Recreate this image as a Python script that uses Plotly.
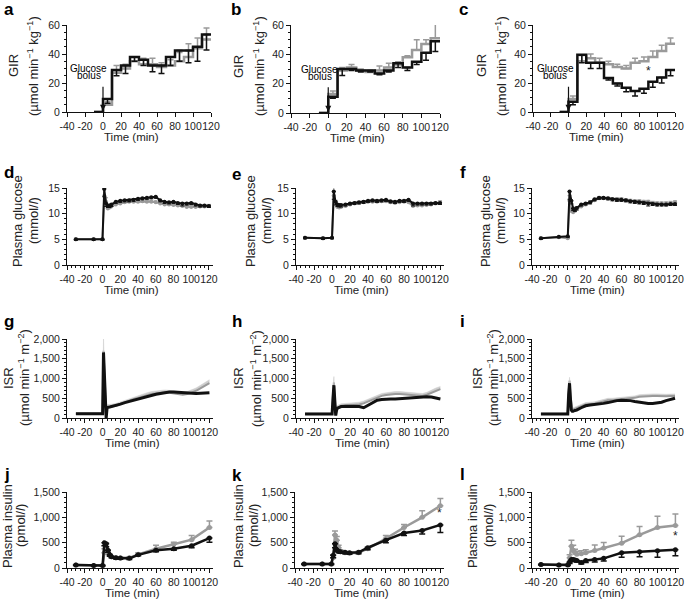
import plotly.graph_objects as go

# ---------------- data ----------------
gir_edges = [-10, 0, 10, 20, 30, 40, 50, 60, 70, 80, 90, 100, 110, 120]
gir_mid = [5, 15, 25, 35, 45, 55, 65, 75, 85, 95, 105, 115]

gir_a_gray = [0, 5, 27, 30, 35, 33, 33, 31, 32, 35, 38, 44, 50]
gir_a_gray_hi = [7, 32, 33, 38, 37, 37, 34, 36, 41, 47, 51, 58]
gir_a_black = [0, 9, 29, 32, 38, 36, 32, 32, 38, 42.5, 42.5, 45, 53.5]
gir_a_black_lo = [6, 25, 26.5, 35, 32, 27.7, 26.5, 32, 35, 34, 35, 42.7]

gir_b_gray = [0, 13, 29, 31, 29, 28, 29, 31, 33, 38, 43, 47, 51]
gir_b_gray_hi = [15, 31, 33, 30, 29, 32, 34, 35, 39, 50, 50, 62]
gir_b_black = [0, 11, 30, 30, 29, 29, 27, 29, 34, 31, 35, 41, 49]
gir_b_black_lo = [10, 25.5, 29, 28, 28, 26, 28, 31, 29, 33, 36, 42]

gir_c_gray = [0, 9, 35, 37, 34, 33, 31, 30, 34, 35, 38, 42, 47]
gir_c_gray_hi = [11, 39, 40, 37, 35, 33, 32, 37, 38, 42, 46, 51]
gir_c_black = [0, 7, 39.5, 34, 34, 23.5, 19.6, 16.8, 14.5, 16, 20.8, 23.8, 29]
gir_c_black_lo = [5, 34, 30, 30, 22, 18, 14, 11, 13, 17, 20, 25]

glu_t = [-30, -10, 0, 2, 4, 6, 8, 10, 15, 20, 25, 30, 35, 40, 45, 50, 55, 60,
         65, 70, 75, 80, 85, 90, 95, 100, 105, 110, 115, 120]
glu_d_black = [5.0, 5.0, 5.0, 14.8, 12.0, 11.6, 11.6, 11.8, 12.3, 12.5, 12.6, 12.6, 12.7, 12.9, 13.0,
               13.1, 13.2, 13.3, 12.6, 12.3, 12.2, 12.3, 12.1, 12.0, 12.0, 12.1, 11.8, 11.6, 11.6, 11.5]
glu_d_gray = [5.0, 5.0, 5.0, 13.5, 12.3, 11.0, 11.2, 11.4, 11.8, 12.0, 12.2, 12.3, 12.3, 12.3, 12.4,
              12.3, 12.3, 12.2, 12.0, 11.8, 11.8, 11.7, 11.6, 11.5, 11.3, 11.3, 11.3, 11.4, 11.4, 11.5]
glu_e_black = [5.3, 5.2, 5.3, 14.3, 12.3, 11.8, 11.7, 11.7, 11.8, 12.0, 12.1, 12.2, 12.3, 12.5, 12.6,
               12.5, 12.6, 12.7, 12.4, 12.3, 12.5, 12.5, 12.7, 12.0, 12.0, 12.0, 12.0, 12.0, 12.1, 12.1]
glu_e_gray = [5.3, 5.2, 5.3, 13.5, 12.0, 11.3, 11.2, 11.3, 11.5, 11.8, 12.0, 12.1, 12.2, 12.3, 12.3,
              12.3, 12.4, 12.4, 12.2, 12.1, 12.2, 12.3, 12.2, 11.5, 11.6, 11.6, 11.7, 11.8, 12.0, 12.2]
glu_f_black = [5.2, 5.5, 5.6, 14.3, 12.5, 11.0, 10.8, 11.1, 11.8, 12.0, 12.2, 12.8, 13.1, 13.1, 13.0,
               12.8, 12.7, 12.7, 12.6, 12.4, 12.3, 12.2, 12.1, 12.0, 11.9, 11.8, 11.8, 11.8, 11.9, 11.9]
glu_f_gray = [5.2, 5.4, 5.2, 12.5, 10.5, 10.3, 10.6, 11.0, 11.4, 11.8, 12.2, 12.6, 13.0, 13.0, 12.9,
              12.8, 12.8, 12.8, 12.6, 12.5, 12.4, 12.4, 12.3, 12.3, 12.1, 12.0, 12.0, 12.0, 12.1, 12.2]
glu_d_gray_err = [0.2, 0.2, 0.2, 2.3, 0.8, 0.5, 0.4, 0.4, 0.3, 0.3, 0.3, 0.3, 0.3, 0.3, 0.3,
                  0.3, 0.3, 0.3, 0.3, 0.3, 0.3, 0.3, 0.3, 0.3, 0.3, 0.3, 0.3, 0.3, 0.3, 0.3]
glu_e_gray_err = [0.2, 0.2, 0.2, 1.8, 0.6, 0.4, 0.4, 0.4, 0.3, 0.3, 0.3, 0.3, 0.3, 0.3, 0.3,
                  0.3, 0.3, 0.3, 0.3, 0.3, 0.3, 0.3, 0.3, 0.3, 0.3, 0.3, 0.3, 0.3, 0.3, 0.3]
glu_f_gray_err = [0.2, 0.2, 0.2, 1.0, 0.6, 0.4, 0.4, 0.4, 0.3, 0.3, 0.3, 0.3, 0.3, 0.3, 0.3,
                  0.3, 0.3, 0.3, 0.3, 0.3, 0.3, 0.3, 0.3, 0.3, 0.3, 0.3, 0.3, 0.3, 0.3, 0.3]
glu_black_err = [0.2, 0.2, 0.2, 1.5, 0.6, 0.4, 0.4, 0.4, 0.3, 0.3, 0.3, 0.3, 0.3, 0.3, 0.3,
                 0.3, 0.3, 0.3, 0.3, 0.3, 0.3, 0.3, 0.3, 0.5, 0.3, 0.3, 0.3, 0.3, 0.3, 0.3]

isr_t = [-30, -20, -10, 0, 1, 2, 3, 4, 5, 6, 8, 10, 15, 20, 25, 30, 35, 40, 45, 50, 55, 60,
         65, 70, 75, 80, 85, 90, 95, 100, 105, 110, 115, 120]
isr_g_black = [110, 110, 110, 110, 1660, 900, 300, 0, 250, 270, 280, 290, 310, 350, 390, 420, 460, 490,
               520, 540, 570, 600, 620, 640, 660, 660, 650, 640, 630, 625, 620, 625, 630, 640]
isr_g_gray = [110, 110, 110, 110, 1700, 1000, 350, 100, 270, 280, 280, 290, 310, 350, 400, 440, 480, 510,
              550, 580, 610, 620, 640, 650, 640, 620, 600, 590, 610, 640, 690, 750, 810, 880]
isr_h_black = [100, 100, 100, 100, 500, 830, 450, 60, 200, 250, 270, 290, 300, 300, 300, 290, 260, 330,
               400, 450, 470, 480, 480, 480, 490, 490, 500, 520, 530, 540, 540, 530, 510, 480]
isr_h_gray = [100, 100, 100, 100, 600, 900, 500, 100, 200, 260, 280, 300, 310, 320, 330, 340, 370, 420,
              480, 530, 560, 580, 600, 610, 610, 600, 590, 580, 570, 560, 590, 640, 690, 730]
isr_i_black = [100, 100, 100, 100, 600, 880, 500, 200, 170, 170, 190, 200, 260, 310, 330, 340, 350, 370,
               390, 420, 440, 450, 450, 440, 420, 400, 380, 370, 370, 380, 400, 440, 470, 500]
isr_i_gray = [100, 100, 100, 100, 650, 950, 550, 250, 200, 210, 230, 250, 300, 340, 350, 360, 390, 430,
              450, 450, 460, 470, 480, 490, 510, 540, 550, 560, 560, 560, 550, 550, 555, 560]
isr_g_gray_err = [30, 30, 30, 30, 350, 150, 80, 60, 60, 60, 60, 60, 60, 60, 60, 60, 60, 60,
                  60, 60, 60, 60, 60, 60, 60, 60, 60, 60, 60, 70, 70, 80, 80, 90]
isr_h_gray_err = [30, 30, 30, 30, 150, 150, 80, 60, 60, 60, 60, 60, 60, 60, 60, 60, 60, 60,
                  60, 60, 60, 60, 60, 60, 60, 60, 60, 60, 60, 60, 60, 70, 70, 70]
isr_i_gray_err = [30, 30, 30, 30, 80, 80, 60, 50, 50, 50, 50, 50, 50, 50, 50, 50, 50, 50,
                  50, 50, 50, 50, 50, 50, 50, 50, 50, 50, 50, 50, 50, 50, 50, 50]

ins_t = [-30, -10, 0, 2, 4, 6, 8, 10, 15, 20, 30, 40, 60, 80, 100, 120]
ins_j_black = [60, 50, 50, 500, 480, 350, 260, 220, 200, 195, 190, 260, 350, 380, 440, 590]
ins_j_black_err = [10, 10, 10, 60, 60, 40, 30, 20, 20, 20, 20, 20, 30, 30, 40, 80]
ins_j_gray = [60, 50, 50, 300, 420, 300, 250, 220, 200, 195, 200, 270, 380, 470, 560, 800]
ins_j_gray_err = [10, 10, 10, 80, 80, 50, 30, 20, 20, 20, 20, 30, 70, 40, 80, 130]
ins_k_black = [80, 80, 80, 250, 480, 360, 330, 320, 310, 300, 310, 400, 550, 690, 740, 850]
ins_k_black_err = [10, 10, 10, 50, 80, 40, 30, 30, 30, 30, 30, 40, 50, 50, 70, 150]
ins_k_gray = [80, 80, 80, 200, 650, 550, 400, 330, 300, 290, 300, 380, 580, 800, 1000, 1230]
ins_k_gray_err = [10, 10, 10, 60, 80, 70, 50, 30, 30, 30, 30, 40, 60, 60, 130, 140]
ins_l_black = [70, 60, 60, 120, 170, 170, 160, 150, 110, 150, 170, 190, 300, 320, 340, 360]
ins_l_black_err = [10, 10, 10, 30, 30, 30, 30, 30, 30, 40, 50, 50, 90, 100, 130, 120]
ins_l_gray = [70, 60, 70, 200, 430, 350, 300, 270, 280, 300, 345, 395, 490, 655, 800, 840]
ins_l_gray_err = [10, 10, 10, 60, 120, 100, 70, 60, 60, 60, 110, 110, 135, 165, 220, 225]

x_ticks = [-40, -20, 0, 20, 40, 60, 80, 100, 120]
x_ticktext = ['-40', '-20', '0', '20', '40', '60', '80', '100', '120']

# ---------------- styling ----------------
W, H = 685, 602
BLACK = '#111111'
GRAY = '#9a9a9a'
BAND = '#cdcdcd'
TXT = '#222222'
FONT = 'Liberation Sans, Arial, sans-serif'


def fx(px):
    return px / W


def fy(py):
    return 1 - py / H


# pixel boxes: x0, x1, ytop, ybottom, xmax
boxes = {
    1: (67, 211, 25, 112, 120), 2: (291, 440, 25, 113, 120), 3: (533, 675, 25, 112, 120),
    4: (67, 212.5, 188, 265, 124), 5: (296, 443.6, 188, 265, 124), 6: (532, 678.6, 188, 265, 124),
    7: (67, 213, 339, 418, 124), 8: (296, 444, 339, 418, 124), 9: (532, 678.6, 339, 418, 124),
    10: (67, 213, 492, 568, 124), 11: (295, 444, 492, 568, 124), 12: (532, 679, 492, 568, 124),
}

fig = go.Figure()
annotations = []


def ax(p):
    return ('x' if p == 1 else f'x{p}'), ('y' if p == 1 else f'y{p}')


def setup_axes(p, ymax, ydtick, yminor, xminor, tickformat=''):
    x0, x1, yt, yb, xmax = boxes[p]
    common = dict(showline=True, linecolor=BLACK, linewidth=1, ticks='outside', ticklen=4,
                  tickwidth=1, tickcolor=BLACK, showgrid=False, zeroline=False, tickangle=0,
                  automargin=False, tickfont=dict(family=FONT, size=10.5, color=TXT))
    xa = dict(common, domain=[fx(x0), fx(x1)], range=[-40, xmax], tickvals=x_ticks,
              ticktext=x_ticktext, anchor=ax(p)[1])
    if xminor:
        xa['minor'] = dict(dtick=5, tick0=0, ticklen=2, ticks='outside', tickcolor=BLACK)
    ya = dict(common, domain=[fy(yb), fy(yt)], range=[0, ymax], dtick=ydtick, tick0=0,
              anchor=ax(p)[0], tickformat=tickformat,
              minor=dict(dtick=yminor, tick0=0, ticklen=2, ticks='outside', tickcolor=BLACK))
    kx = 'xaxis' if p == 1 else f'xaxis{p}'
    ky = 'yaxis' if p == 1 else f'yaxis{p}'
    fig.layout[kx] = xa
    fig.layout[ky] = ya
    # x title
    annotations.append(dict(text='Time (min)', xref='paper', yref='paper',
                            x=fx((x0 + x1) / 2 - 8), y=fy(yb + 25), showarrow=False,
                            xanchor='center', yanchor='middle',
                            font=dict(family=FONT, size=11.5, color=TXT)))


def ytitle(line1, line2, x1px, x2px, ypx):
    for t, xp in ((line1, x1px), (line2, x2px)):
        annotations.append(dict(text=t, xref='paper', yref='paper', x=fx(xp), y=fy(ypx),
                                showarrow=False, textangle=-90, xanchor='center',
                                yanchor='middle', font=dict(family=FONT, size=13, color=TXT)))


def letter(t, xpx, ypx):
    annotations.append(dict(text=f'<b>{t}</b>', xref='paper', yref='paper', x=fx(xpx), y=fy(ypx),
                            showarrow=False, xanchor='left', yanchor='middle',
                            font=dict(family=FONT, size=17, color='#000000')))


def star(p, x, y):
    xr, yr = ax(p)
    annotations.append(dict(text='*', xref=xr, yref=yr, x=x, y=y, showarrow=False,
                            font=dict(family=FONT, size=12, color=TXT)))


def gir_panel(p, gray, gray_hi, black, black_lo, tx, ty):
    xr, yr = ax(p)
    setup_axes(p, 60, 20, 5, False)
    fig.add_trace(go.Scatter(x=gir_edges, y=gray + [gray[-1]], mode='lines', line_shape='hv',
                             line=dict(color=GRAY, width=2.5), xaxis=xr, yaxis=yr))
    fig.add_trace(go.Scatter(x=gir_mid, y=gray[1:], mode='markers', marker=dict(size=1, color=GRAY, opacity=0),
                             error_y=dict(type='data', symmetric=False,
                                          array=[h - v for h, v in zip(gray_hi, gray[1:])],
                                          arrayminus=[0] * len(gir_mid), color=GRAY, thickness=1.5, width=3),
                             xaxis=xr, yaxis=yr))
    fig.add_trace(go.Scatter(x=gir_edges, y=black + [black[-1]], mode='lines', line_shape='hv',
                             line=dict(color=BLACK, width=2.5), xaxis=xr, yaxis=yr))
    fig.add_trace(go.Scatter(x=gir_mid, y=black[1:], mode='markers', marker=dict(size=1, color=BLACK, opacity=0),
                             error_y=dict(type='data', symmetric=False, array=[0] * len(gir_mid),
                                          arrayminus=[v - lo for v, lo in zip(black[1:], black_lo)],
                                          color=BLACK, thickness=1.5, width=3),
                             xaxis=xr, yaxis=yr))
    # glucose bolus arrow
    annotations.append(dict(x=0, y=0.8, ax=0, ay=18.5, xref=xr, yref=yr, axref=xr, ayref=yr,
                            showarrow=True, arrowhead=2, arrowsize=1, arrowwidth=1.2,
                            arrowcolor=BLACK, text=''))
    annotations.append(dict(text='Glucose', x=tx, y=ty + 2.5, xref=xr, yref=yr, showarrow=False,
                            font=dict(family=FONT, size=10, color='#000000')))
    annotations.append(dict(text='bolus', x=tx, y=ty - 2.5, xref=xr, yref=yr, showarrow=False,
                            font=dict(family=FONT, size=10, color='#000000')))


def glu_panel(p, black, gray, gray_err):
    xr, yr = ax(p)
    setup_axes(p, 15, 5, 1, True)
    fig.add_trace(go.Scatter(x=glu_t, y=gray, mode='lines+markers', line=dict(color=GRAY, width=2),
                             marker=dict(size=4, color=GRAY),
                             error_y=dict(type='data', symmetric=False, array=gray_err,
                                          arrayminus=[0] * len(glu_t), color=GRAY, thickness=1, width=2),
                             xaxis=xr, yaxis=yr))
    fig.add_trace(go.Scatter(x=glu_t, y=black, mode='lines+markers', line=dict(color=BLACK, width=2),
                             marker=dict(size=4, color=BLACK),
                             error_y=dict(type='data', symmetric=False, array=[0] * len(glu_t),
                                          arrayminus=glu_black_err, color=BLACK, thickness=1, width=2),
                             xaxis=xr, yaxis=yr))


def isr_panel(p, black, gray, gray_err):
    xr, yr = ax(p)
    setup_axes(p, 2000, 500, 100, True, tickformat=',')
    fig.add_trace(go.Scatter(x=isr_t, y=gray, mode='lines', line=dict(color=GRAY, width=2),
                             xaxis=xr, yaxis=yr))
    fig.add_trace(go.Scatter(x=isr_t, y=[g + e for g, e in zip(gray, gray_err)], mode='lines',
                             line=dict(color=BAND, width=0.5), fill='tonexty', fillcolor=BAND,
                             xaxis=xr, yaxis=yr))
    fig.add_trace(go.Scatter(x=isr_t, y=black, mode='lines', line=dict(color=BLACK, width=3),
                             xaxis=xr, yaxis=yr))


def ins_panel(p, black, black_err, gray, gray_err):
    xr, yr = ax(p)
    setup_axes(p, 1500, 500, 100, True, tickformat=',')
    fig.add_trace(go.Scatter(x=ins_t, y=gray, mode='lines+markers', line=dict(color=GRAY, width=2.5),
                             marker=dict(size=5, color=GRAY),
                             error_y=dict(type='data', symmetric=False, array=gray_err,
                                          arrayminus=[0] * len(ins_t), color=GRAY, thickness=1.5, width=3),
                             xaxis=xr, yaxis=yr))
    fig.add_trace(go.Scatter(x=ins_t, y=black, mode='lines+markers', line=dict(color=BLACK, width=2.5),
                             marker=dict(size=5, color=BLACK),
                             error_y=dict(type='data', symmetric=False, array=[0] * len(ins_t),
                                          arrayminus=black_err, color=BLACK, thickness=1.5, width=3),
                             xaxis=xr, yaxis=yr))


gir_panel(1, gir_a_gray, gir_a_gray_hi, gir_a_black, gir_a_black_lo, -16, 27.5)
gir_panel(2, gir_b_gray, gir_b_gray_hi, gir_b_black, gir_b_black_lo, -9, 27.5)
gir_panel(3, gir_c_gray, gir_c_gray_hi, gir_c_black, gir_c_black_lo, -15, 27.5)
star(3, 90, 28)

glu_panel(4, glu_d_black, glu_d_gray, glu_d_gray_err)
glu_panel(5, glu_e_black, glu_e_gray, glu_e_gray_err)
glu_panel(6, glu_f_black, glu_f_gray, glu_f_gray_err)

isr_panel(7, isr_g_black, isr_g_gray, isr_g_gray_err)
isr_panel(8, isr_h_black, isr_h_gray, isr_h_gray_err)
isr_panel(9, isr_i_black, isr_i_gray, isr_i_gray_err)

ins_panel(10, ins_j_black, ins_j_black_err, ins_j_gray, ins_j_gray_err)
ins_panel(11, ins_k_black, ins_k_black_err, ins_k_gray, ins_k_gray_err)
ins_panel(12, ins_l_black, ins_l_black_err, ins_l_gray, ins_l_gray_err)
star(11, 119, 1085)
star(12, 120, 625)

gir_unit = '(µmol min<sup>−1</sup> kg<sup>−1</sup>)'
isr_unit = '(µmol min<sup>−1</sup> m<sup>−2</sup>)'
ytitle('GIR', gir_unit, 14, 33, 66)
ytitle('GIR', gir_unit, 239, 259, 66)
ytitle('GIR', gir_unit, 482, 501, 66)
ytitle('Plasma glucose', '(mmol/<i>l</i>)', 17, 33, 221)
ytitle('Plasma glucose', '(mmol/<i>l</i>)', 250, 266, 221)
ytitle('Plasma glucose', '(mmol/<i>l</i>)', 485, 500, 221)
ytitle('ISR', isr_unit, 8, 24, 378)
ytitle('ISR', isr_unit, 238, 256, 378)
ytitle('ISR', isr_unit, 477, 493, 378)
ytitle('Plasma insulin', '(pmol/<i>l</i>)', 7, 20, 526)
ytitle('Plasma insulin', '(pmol/<i>l</i>)', 238, 253, 526)
ytitle('Plasma insulin', '(pmol/<i>l</i>)', 472, 488, 526)

for t, xp, yp in [('a', 2, 9), ('b', 229, 9), ('c', 457, 10),
                  ('d', 2, 173), ('e', 230, 174), ('f', 458, 173),
                  ('g', 2, 322), ('h', 230, 321), ('i', 458, 321),
                  ('j', 2, 474), ('k', 230, 475), ('l', 458, 474)]:
    letter(t, xp, yp)

fig.update_layout(width=W, height=H, margin=dict(l=0, r=0, t=0, b=0, autoexpand=False),
                  paper_bgcolor='white', plot_bgcolor='white', showlegend=False,
                  annotations=annotations, font=dict(family=FONT, color=TXT))
fig.write_html('out.html', config={'displayModeBar': False},
               post_script="document.body.style.margin='0px';")
